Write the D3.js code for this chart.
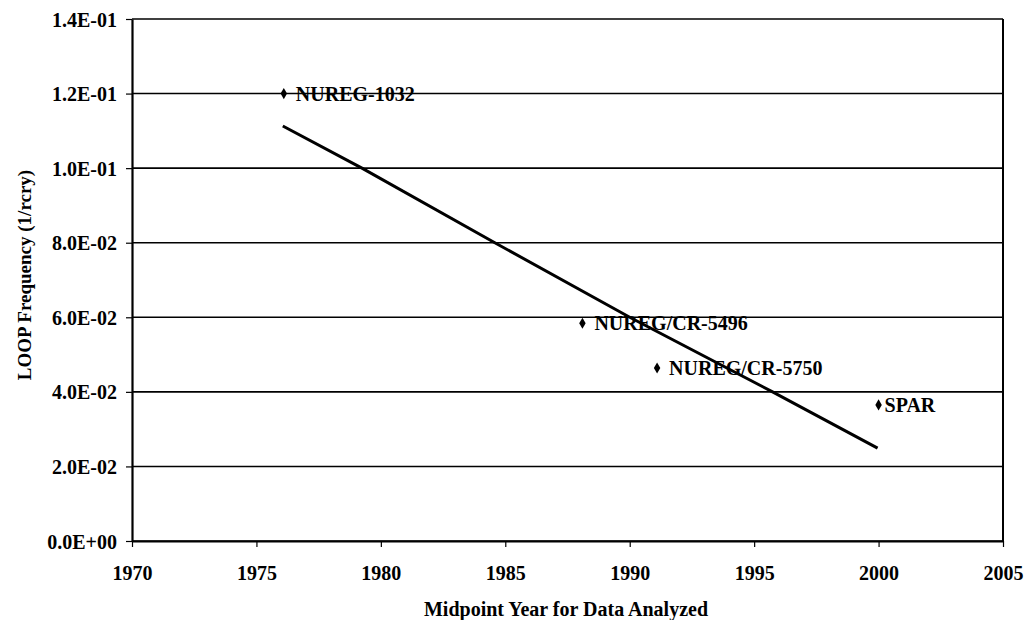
<!DOCTYPE html>
<html><head><meta charset="utf-8">
<script src="https://cdn.jsdelivr.net/npm/d3@7"></script>
<style>body{margin:0;background:#fff}svg{display:block}text{font-family:"Liberation Serif","Times New Roman",serif;fill:#000}</style>
</head><body><svg id="c" width="1026" height="620"></svg>
<script>
const studies = ["NUREG-1032", "NUREG/CR-5496", "NUREG/CR-5750", "SPAR"];
const studyYears = [1976.1, 1988.1, 1991.1, 2000.0];
const studyFreq = [0.120, 0.0584, 0.0464, 0.0365];
const trendYears = [1976.06, 1979.24, 1984.58, 1990.0, 1995.74, 1999.96];
const trendFreq = [0.1113, 0.100, 0.080, 0.060, 0.040, 0.0249];
const xTicks = [1970, 1975, 1980, 1985, 1990, 1995, 2000, 2005];
const yTicks = [0, 0.02, 0.04, 0.06, 0.08, 0.10, 0.12, 0.14];
const yTickLabels = ["0.0E+00","2.0E-02","4.0E-02","6.0E-02","8.0E-02","1.0E-01","1.2E-01","1.4E-01"];

const svg = d3.select("#c");
const L = 132, R = 1003, T = 19, B = 541;
const x = d3.scaleLinear().domain([1970, 2005]).range([L, R]);
const y = d3.scaleLinear().domain([0, 0.14]).range([B, T]);

// gridlines
svg.append("g").selectAll("line").data(yTicks).join("line")
  .attr("x1", L).attr("x2", R).attr("y1", d => y(d)).attr("y2", d => y(d))
  .attr("stroke", "#000").attr("stroke-width", 1.6);

// right border
svg.append("line").attr("x1", R).attr("x2", R).attr("y1", T).attr("y2", B)
  .attr("stroke", "#000").attr("stroke-width", 2);

// axes
const yAxis = d3.axisLeft(y).tickValues(yTicks).tickFormat((d, i) => yTickLabels[i]).tickSize(6).tickSizeOuter(0);
const gy = svg.append("g").attr("transform", `translate(${L},0)`).call(yAxis);
gy.select(".domain").attr("stroke-width", 2.2);
gy.selectAll(".tick line").attr("stroke-width", 1.2);
gy.selectAll(".tick text").attr("x", -15).attr("dy", "0.35em").style("font-size", "20px").style("font-weight", "bold")
  .style("font-family", '"Liberation Serif",serif');

const xAxis = d3.axisBottom(x).tickValues(xTicks).tickFormat(d3.format("d")).tickSize(6).tickSizeOuter(0);
const gx = svg.append("g").attr("transform", `translate(0,${B})`).call(xAxis);
gx.select(".domain").attr("stroke-width", 2.2);
gx.selectAll(".tick line").attr("stroke-width", 1.2);
gx.selectAll(".tick text").attr("y", 39).attr("dy", 0).style("font-size", "20px").style("font-weight", "bold")
  .style("font-family", '"Liberation Serif",serif');

// trend line
const tline = d3.line().x(d => x(d[0])).y(d => y(d[1]));
svg.append("path").datum(trendYears.map((t, i) => [t, trendFreq[i]]))
  .attr("d", tline).attr("fill", "none").attr("stroke", "#000").attr("stroke-width", 3);

// points
const pts = studies.map((s, i) => ({s, yr: studyYears[i], f: studyFreq[i]}));
svg.append("g").selectAll("path").data(pts).join("path")
  .attr("transform", d => `translate(${x(d.yr)},${y(d.f)})`)
  .attr("d", d3.symbol().type(d3.symbolDiamond).size(36)).attr("fill", "#000");
svg.append("g").selectAll("text").data(pts).join("text")
  .attr("x", d => x(d.yr) + (d.s === "SPAR" ? 6 : 12)).attr("y", d => y(d.f) + 7)
  .style("font-size", "20px").style("font-weight", "bold").text(d => d.s);

// axis titles
svg.append("text").attr("x", 566).attr("y", 616).attr("text-anchor", "middle")
  .style("font-size", "20px").style("font-weight", "bold").text("Midpoint Year for Data Analyzed");
svg.append("text").attr("transform", "translate(31,275) rotate(-90)").attr("text-anchor", "middle")
  .style("font-size", "19px").style("font-weight", "bold").text("LOOP Frequency (1/rcry)");
</script></body></html>
